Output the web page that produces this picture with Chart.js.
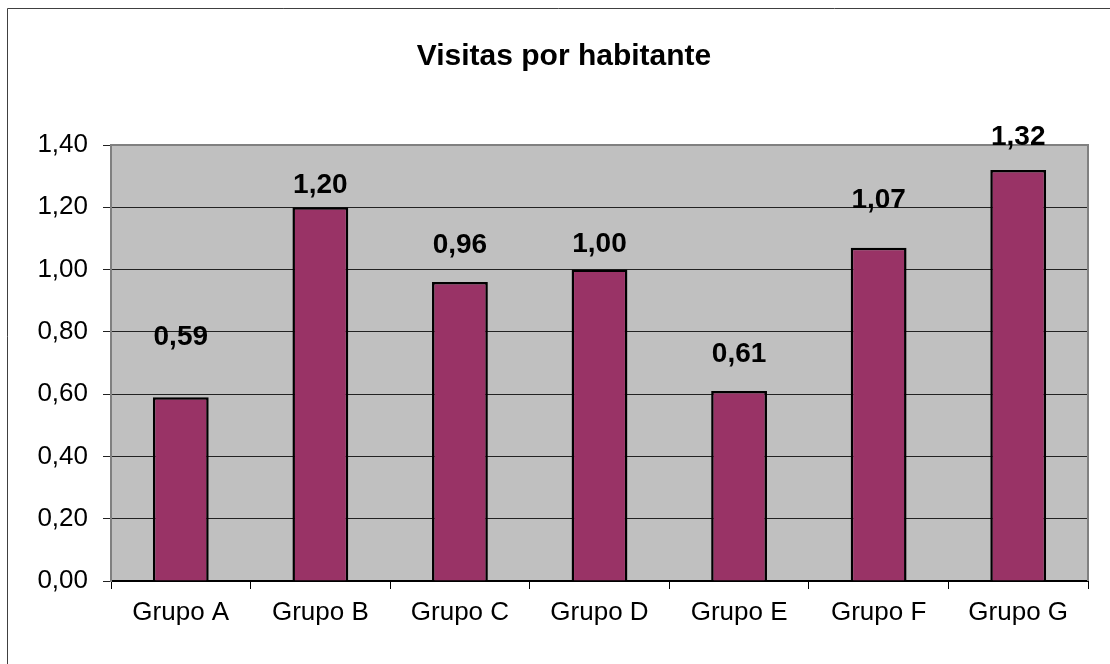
<!DOCTYPE html>
<html>
<head>
<meta charset="utf-8">
<script src="https://cdn.jsdelivr.net/npm/chart.js@4/dist/chart.umd.min.js"></script>
<style>
    html, body { margin: 0; padding: 0; background: #ffffff; }
    #chart { display: block; }
</style>
</head>
<body>
<canvas id="chart" width="1110" height="664"></canvas>
<script>
// Visitas por habitante, por grupo
const groups = ['Grupo A', 'Grupo B', 'Grupo C', 'Grupo D', 'Grupo E', 'Grupo F', 'Grupo G'];
const visits = [0.59, 1.20, 0.96, 1.00, 0.61, 1.07, 1.32];
const yTicks = [0, 0.2, 0.4, 0.6, 0.8, 1.0, 1.2, 1.4];

const FONT = "'Liberation Sans', Arial, sans-serif";
const fmt = v => v.toFixed(2).replace('.', ',');

// distance from bar top to label baseline, per bar
const labelLift = [52, 14, 29, 18, 29, 40, 25];

const framePlugin = {
    id: 'frame',
    beforeDraw(chart) {
        const { ctx, chartArea: a } = chart;
        ctx.save();
        ctx.fillStyle = '#ffffff';
        ctx.fillRect(0, 0, chart.width, chart.height);
        // outer chart border
        ctx.strokeStyle = '#404040';
        ctx.lineWidth = 1;
        ctx.beginPath();
        ctx.moveTo(7.5, chart.height);
        ctx.lineTo(7.5, 8.5);
        ctx.lineTo(chart.width, 8.5);
        ctx.stroke();
        // plot background
        ctx.fillStyle = '#c0c0c0';
        ctx.fillRect(a.left, a.top, a.right - a.left, a.bottom - a.top);
        // title
        ctx.fillStyle = '#000000';
        ctx.font = `bold 30px ${FONT}`;
        ctx.textAlign = 'center';
        ctx.textBaseline = 'alphabetic';
        ctx.fillText('Visitas por habitante', 564, 65);
        ctx.restore();
    },
    afterDatasetsDraw(chart) {
        const { ctx, chartArea: a } = chart;
        ctx.save();
        // plot border (top, left, right)
        ctx.strokeStyle = '#808080';
        ctx.lineWidth = 2;
        ctx.beginPath();
        ctx.moveTo(a.left, a.bottom);
        ctx.lineTo(a.left, a.top);
        ctx.lineTo(a.right, a.top);
        ctx.lineTo(a.right, a.bottom);
        ctx.stroke();

        // value labels above the bars
        const meta = chart.getDatasetMeta(0);
        ctx.fillStyle = '#000000';
        ctx.font = `bold 28px ${FONT}`;
        ctx.textAlign = 'center';
        ctx.textBaseline = 'alphabetic';
        meta.data.forEach((bar, i) => {
            ctx.fillText(fmt(visits[i]), bar.x, bar.y - labelLift[i]);
        });
        ctx.restore();
    }
};

new Chart(document.getElementById('chart'), {
    type: 'bar',
    data: {
        labels: groups,
        datasets: [{
            data: visits,
            backgroundColor: '#993366',
            borderColor: '#000000',
            borderWidth: 2.5,
            categoryPercentage: 1,
            barPercentage: 0.4
        }]
    },
    options: {
        responsive: false,
        animation: false,
        layout: { padding: { top: 145, right: 22, bottom: 0, left: 0 } },
        plugins: {
            legend: { display: false },
            tooltip: { enabled: false }
        },
        scales: {
            x: {
                afterFit(scale) { scale.height = 83; },
                grid: {
                    drawOnChartArea: false,
                    drawTicks: true,
                    tickLength: 8,
                    color: '#000000'
                },
                border: { color: '#000000', width: 2 },
                ticks: {
                    color: '#000000',
                    padding: 8,
                    maxRotation: 0,
                    font: { family: FONT, size: 26 }
                }
            },
            y: {
                min: 0,
                max: 1.4,
                afterFit(scale) { scale.width = 111; },
                afterBuildTicks(scale) { scale.ticks = yTicks.map(v => ({ value: v })); },
                grid: {
                    color: '#222222',
                    lineWidth: 1,
                    drawTicks: true,
                    tickLength: 8
                },
                border: { color: '#808080', width: 2 },
                ticks: {
                    color: '#000000',
                    padding: 15,
                    callback: v => fmt(v),
                    font: { family: FONT, size: 26 }
                }
            }
        }
    },
    plugins: [framePlugin]
});
</script>
</body>
</html>
